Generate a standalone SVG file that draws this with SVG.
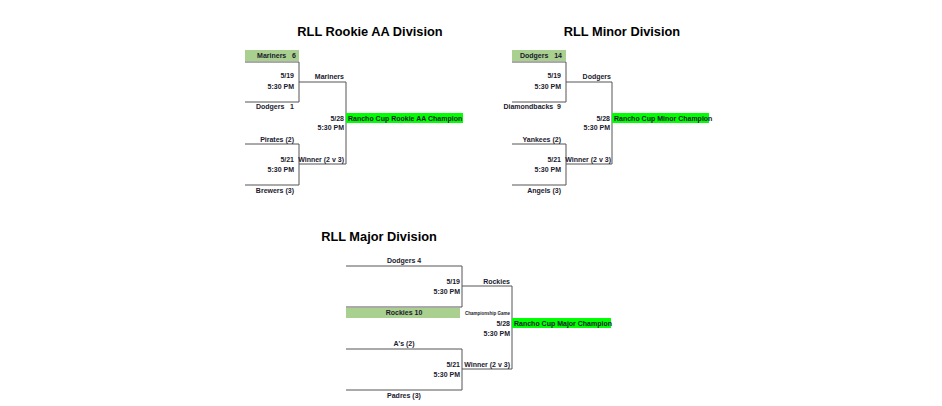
<svg xmlns="http://www.w3.org/2000/svg" width="942" height="406" viewBox="0 0 942 406">
<style>
text{font-family:"Liberation Sans",Arial,sans-serif;font-weight:bold;fill:#1a1a2e;font-size:7px;white-space:pre}
.t{font-size:12.8px;fill:#000}
.r{text-anchor:end}.m{text-anchor:middle}
.ln{stroke:#555;stroke-width:1;fill:none}
.w{fill:#a9d08e}.c{fill:#00ff00}
.tn{font-size:4.5px}
</style>
<rect width="942" height="406" fill="#fff"/>
<text class="t m" x="370" y="36">RLL Rookie AA Division</text>
<text class="t m" x="622" y="36">RLL Minor Division</text>
<text class="t m" x="379" y="241">RLL Major Division</text>
<g id="connectors">
<path class="ln" d="M245 62H299V102H245M299 82H346V164H299M245 144H299V185H245"/>
<path class="ln" d="M512 62H566V102H512M566 82H612V164H566M512 144H566V185H512"/>
<path class="ln" d="M346 266H462V307H346M462 286H512V369H462M346 349H462V390H346"/>
</g>
<g id="rookie">
<rect class="w" x="245" y="50" width="54" height="11"/>
<text class="r" x="296" y="58" xml:space="preserve">Mariners   6</text>
<text class="r" x="294" y="78">5/19</text><text class="r" x="294" y="89">5:30 PM</text>
<text class="r" x="294" y="109" xml:space="preserve">Dodgers   1</text>
<text class="r" x="344" y="79">Mariners</text>
<rect class="c" x="346" y="113" width="117" height="10"/>
<text x="348" y="121">Rancho Cup Rookie AA Champion</text>
<text class="r" x="344" y="121">5/28</text><text class="r" x="344" y="130">5:30 PM</text>
<text class="r" x="294" y="142">Pirates (2)</text>
<text class="r" x="294" y="162">5/21</text><text class="r" x="294" y="172">5:30 PM</text>
<text class="r" x="344" y="162">Winner (2 v 3)</text>
<text class="r" x="294" y="193">Brewers (3)</text>
</g>
<g id="minor">
<rect class="w" x="512" y="50" width="54" height="11"/>
<text class="r" x="562" y="58" xml:space="preserve">Dodgers   14</text>
<text class="r" x="561" y="78">5/19</text><text class="r" x="561" y="89">5:30 PM</text>
<text class="r" x="561" y="109" xml:space="preserve">Diamondbacks  9</text>
<text class="r" x="611" y="79">Dodgers</text>
<rect class="c" x="612" y="113" width="97" height="10"/>
<text x="614" y="121">Rancho Cup Minor Champion</text>
<text class="r" x="610" y="121">5/28</text><text class="r" x="610" y="130">5:30 PM</text>
<text class="r" x="561" y="142">Yankees (2)</text>
<text class="r" x="561" y="162">5/21</text><text class="r" x="561" y="172">5:30 PM</text>
<text class="r" x="611" y="162">Winner (2 v 3)</text>
<text class="r" x="561" y="193">Angels (3)</text>
</g>
<g id="major">
<text class="m" x="404" y="263">Dodgers 4</text>
<text class="r" x="460" y="284">5/19</text><text class="r" x="460" y="294">5:30 PM</text>
<rect class="w" x="346" y="308" width="114" height="10"/>
<text class="m" x="404" y="315">Rockies 10</text>
<text class="r" x="510" y="284">Rockies</text>
<text class="tn r" x="510" y="315">Championship Game</text>
<rect class="c" x="512" y="318" width="99" height="10"/>
<text x="514" y="326">Rancho Cup Major Champion</text>
<text class="r" x="510" y="326">5/28</text><text class="r" x="510" y="336">5:30 PM</text>
<text class="m" x="404" y="346">A's (2)</text>
<text class="r" x="460" y="367">5/21</text><text class="r" x="460" y="377">5:30 PM</text>
<text class="r" x="510" y="367">Winner (2 v 3)</text>
<text class="m" x="404" y="398">Padres (3)</text>
</g>
</svg>
